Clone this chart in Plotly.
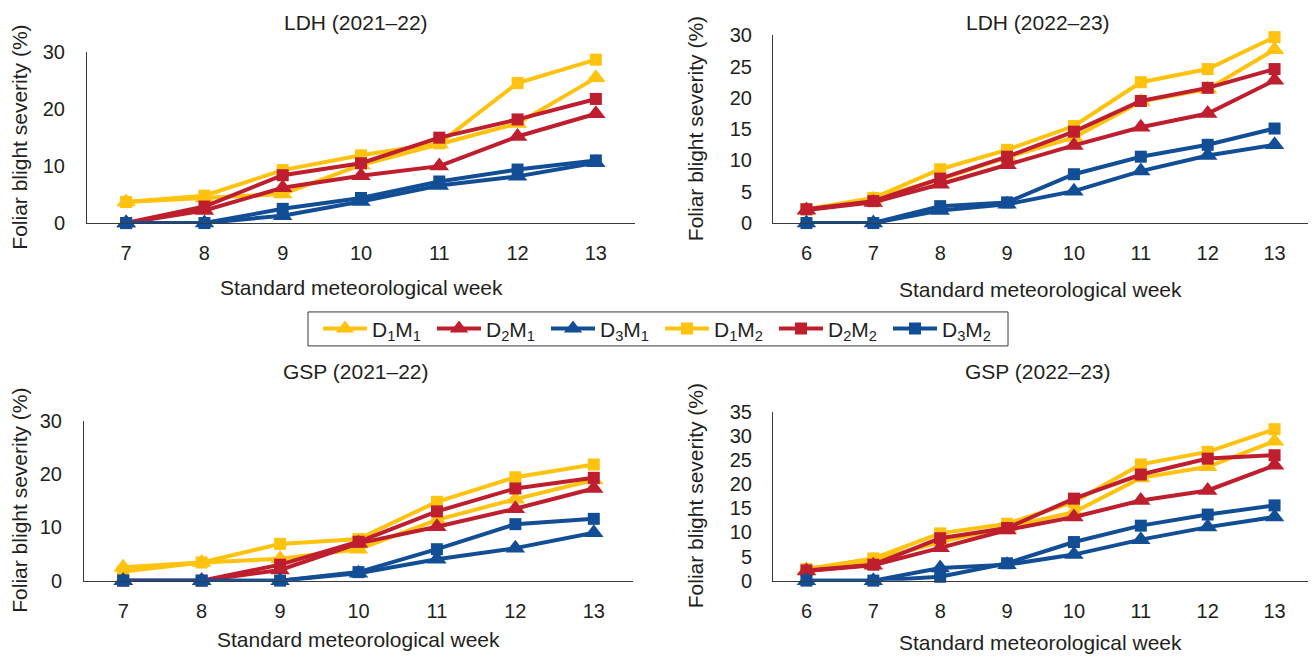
import plotly.graph_objects as go

# ---------------- data ----------------
weeks_2122 = [7, 8, 9, 10, 11, 12, 13]
weeks_2223 = [6, 7, 8, 9, 10, 11, 12, 13]

series_names = ["D<sub>1</sub>M<sub>1</sub>", "D<sub>2</sub>M<sub>1</sub>", "D<sub>3</sub>M<sub>1</sub>",
                "D<sub>1</sub>M<sub>2</sub>", "D<sub>2</sub>M<sub>2</sub>", "D<sub>3</sub>M<sub>2</sub>"]

# LDH 2021-22
ldh_2122_D1M1 = [3.7, 4.4, 5.1, 10.2, 13.9, 17.5, 25.5]
ldh_2122_D2M1 = [0.0, 2.2, 6.2, 8.3, 10.0, 15.2, 19.2]
ldh_2122_D3M1 = [0.0, 0.0, 1.3, 3.8, 6.6, 8.2, 10.6]
ldh_2122_D1M2 = [3.7, 4.8, 9.3, 11.9, 14.0, 24.6, 28.7]
ldh_2122_D2M2 = [0.0, 2.9, 8.4, 10.5, 15.0, 18.2, 21.8]
ldh_2122_D3M2 = [0.0, 0.0, 2.5, 4.4, 7.3, 9.4, 11.0]

# LDH 2022-23
ldh_2223_D1M1 = [2.0, 3.8, 7.0, 10.5, 13.7, 19.4, 21.4, 27.7]
ldh_2223_D2M1 = [2.1, 3.3, 6.2, 9.3, 12.4, 15.3, 17.5, 22.8]
ldh_2223_D3M1 = [0.0, 0.0, 2.0, 3.0, 5.1, 8.3, 10.8, 12.5]
ldh_2223_D1M2 = [2.2, 4.0, 8.6, 11.7, 15.5, 22.5, 24.6, 29.7]
ldh_2223_D2M2 = [2.2, 3.5, 7.1, 10.6, 14.6, 19.5, 21.6, 24.6]
ldh_2223_D3M2 = [0.0, 0.0, 2.7, 3.3, 7.8, 10.6, 12.5, 15.1]

# GSP 2021-22
gsp_2122_D1M1 = [2.5, 3.4, 4.1, 5.9, 11.4, 15.3, 18.9]
gsp_2122_D2M1 = [0.0, 0.0, 2.0, 7.0, 10.1, 13.5, 17.3]
gsp_2122_D3M1 = [0.0, 0.0, 0.0, 1.4, 4.0, 6.1, 9.0]
gsp_2122_D1M2 = [1.7, 3.4, 6.9, 7.8, 14.8, 19.4, 21.8]
gsp_2122_D2M2 = [0.0, 0.0, 3.0, 7.3, 13.0, 17.3, 19.3]
gsp_2122_D3M2 = [0.0, 0.0, 0.0, 1.6, 5.9, 10.6, 11.6]

# GSP 2022-23
gsp_2223_D1M1 = [2.2, 4.2, 8.0, 11.0, 14.2, 21.3, 23.6, 28.9]
gsp_2223_D2M1 = [2.0, 3.2, 6.8, 10.5, 13.2, 16.6, 18.7, 23.9]
gsp_2223_D3M1 = [0.0, 0.0, 2.6, 3.3, 5.4, 8.5, 11.1, 13.2]
gsp_2223_D1M2 = [2.4, 4.6, 9.8, 11.8, 16.3, 24.1, 26.7, 31.4]
gsp_2223_D2M2 = [2.1, 3.3, 8.8, 10.9, 17.0, 22.0, 25.3, 26.0]
gsp_2223_D3M2 = [0.0, 0.0, 0.8, 3.6, 8.0, 11.4, 13.7, 15.6]

panel_titles = ["LDH (2021–22)", "LDH (2022–23)", "GSP (2021–22)", "GSP (2022–23)"]
x_title = "Standard meteorological week"
y_title = "Foliar blight severity (%)"

# ---------------- styling ----------------
YEL = "#FFC20E"
RED = "#BE1E2D"
BLU = "#124E96"
TXT = "#231F20"
FONT = "Liberation Sans, Arial, sans-serif"

colors = [YEL, RED, BLU, YEL, RED, BLU]
symbols = ["triangle-up", "triangle-up", "triangle-up", "square", "square", "square"]
msizes = [17, 17, 17, 12, 12, 12]

panels = [
    (weeks_2122, [ldh_2122_D1M1, ldh_2122_D2M1, ldh_2122_D3M1, ldh_2122_D1M2, ldh_2122_D2M2, ldh_2122_D3M2]),
    (weeks_2223, [ldh_2223_D1M1, ldh_2223_D2M1, ldh_2223_D3M1, ldh_2223_D1M2, ldh_2223_D2M2, ldh_2223_D3M2]),
    (weeks_2122, [gsp_2122_D1M1, gsp_2122_D2M1, gsp_2122_D3M1, gsp_2122_D1M2, gsp_2122_D2M2, gsp_2122_D3M2]),
    (weeks_2223, [gsp_2223_D1M1, gsp_2223_D2M1, gsp_2223_D3M1, gsp_2223_D1M2, gsp_2223_D2M2, gsp_2223_D3M2]),
]

W, H = 1312, 664
# the captured page shows the figure slightly compressed vertically; pre-compensate
VS, VO = 0.968, 10.7


def py(y):
    """target picture y (px) -> paper y fraction"""
    return 1 - ((y - VO) / VS) / H


# pixel boxes in the target picture: (left, right, top, bottom)
boxes = [(87, 635, 52, 223), (773, 1308, 35, 223), (84, 633, 421, 581), (773, 1308, 412, 581)]
yranges = [(0, 30, 10), (0, 30, 5), (0, 30, 10), (0, 35, 5)]
title_pos = [(356, 22), (1038, 22), (356, 372), (1038, 372)]
xtitle_y = [288, 290, 640, 643]
ytitle_x = [20, 695, 20, 695]
ystandoff = [17, 16, 17, 16]
legend_box = (308, 1008, 312, 346)

fig = go.Figure()
layout = {}
annotations = []
draw_order = [3, 0, 4, 1, 5, 2]
for p, (weeks, series) in enumerate(panels):
    ax = "" if p == 0 else str(p + 1)
    for i in draw_order:
        fig.add_trace(go.Scatter(
            x=weeks, y=series[i], name=series_names[i],
            mode="lines+markers",
            line=dict(color=colors[i], width=4),
            marker=dict(symbol=symbols[i], size=msizes[i], color=colors[i]),
            cliponaxis=False,
            showlegend=(p == 0), legendrank=i,
            xaxis="x" + ax, yaxis="y" + ax,
        ))
    l, r, t, b = boxes[p]
    xmin = weeks[0] - 0.5
    xmax = weeks[-1] + 0.5
    layout["xaxis" + ax] = dict(
        domain=[l / W, r / W], range=[xmin, xmax], tickvals=weeks,
        showline=True, linecolor="#3a3a3a", linewidth=1, showgrid=False, zeroline=False,
        ticks="", ticklabelstandoff=12, anchor="y" + ax,
        tickfont=dict(size=20, color=TXT, family=FONT),
    )
    y0, y1, dt = yranges[p]
    layout["yaxis" + ax] = dict(
        domain=[py(b), py(t)], range=[y0, y1], dtick=dt,
        showline=True, linecolor="#3a3a3a", linewidth=1, showgrid=False, zeroline=False,
        ticks="", ticklabelstandoff=ystandoff[p], anchor="x" + ax,
        tickfont=dict(size=20, color=TXT, family=FONT),
    )
    tx, ty = title_pos[p]
    annotations.append(dict(text=panel_titles[p], x=tx / W, y=py(ty), xref="paper", yref="paper",
                            showarrow=False, xanchor="center", yanchor="middle",
                            font=dict(size=21, color=TXT, family=FONT)))
    annotations.append(dict(text=x_title, x=(l + r) / 2 / W, y=py(xtitle_y[p]), xref="paper", yref="paper",
                            showarrow=False, xanchor="center", yanchor="middle",
                            font=dict(size=21, color=TXT, family=FONT)))
    annotations.append(dict(text=y_title, x=ytitle_x[p] / W, y=py((t + b) / 2), xref="paper", yref="paper",
                            showarrow=False, xanchor="center", yanchor="middle", textangle=-90,
                            font=dict(size=21, color=TXT, family=FONT)))

lx0, lx1, ly0, ly1 = legend_box
fig.update_layout(
    width=W, height=H,
    margin=dict(l=0, r=0, t=0, b=0),
    paper_bgcolor="white", plot_bgcolor="white",
    font=dict(family=FONT, color=TXT),
    annotations=annotations,
    shapes=[dict(type="rect", xref="paper", yref="paper",
                 x0=lx0 / W, x1=lx1 / W, y0=py(ly1), y1=py(ly0),
                 line=dict(color="#3a3a3a", width=1), fillcolor="rgba(0,0,0,0)", layer="above")],
    legend=dict(orientation="h", x=(lx0 + lx1) / 2 / W + 2 / W, y=py((ly0 + ly1) / 2),
                xanchor="center", yanchor="middle",
                borderwidth=0, bgcolor="rgba(0,0,0,0)",
                font=dict(size=21, color=TXT, family=FONT),
                entrywidth=55, entrywidthmode="pixels", itemwidth=44,
                traceorder="normal", tracegroupgap=0),
    **layout,
)

fig.write_html("out.html",
               config={"displayModeBar": False},
               post_script="var d=document.getElementById('{plot_id}');"
                           "d.style.position='fixed';d.style.left='0px';d.style.top='0px';"
                           "document.body.style.margin='0';document.body.style.overflow='hidden';"
                           "document.documentElement.style.overflow='hidden';")
